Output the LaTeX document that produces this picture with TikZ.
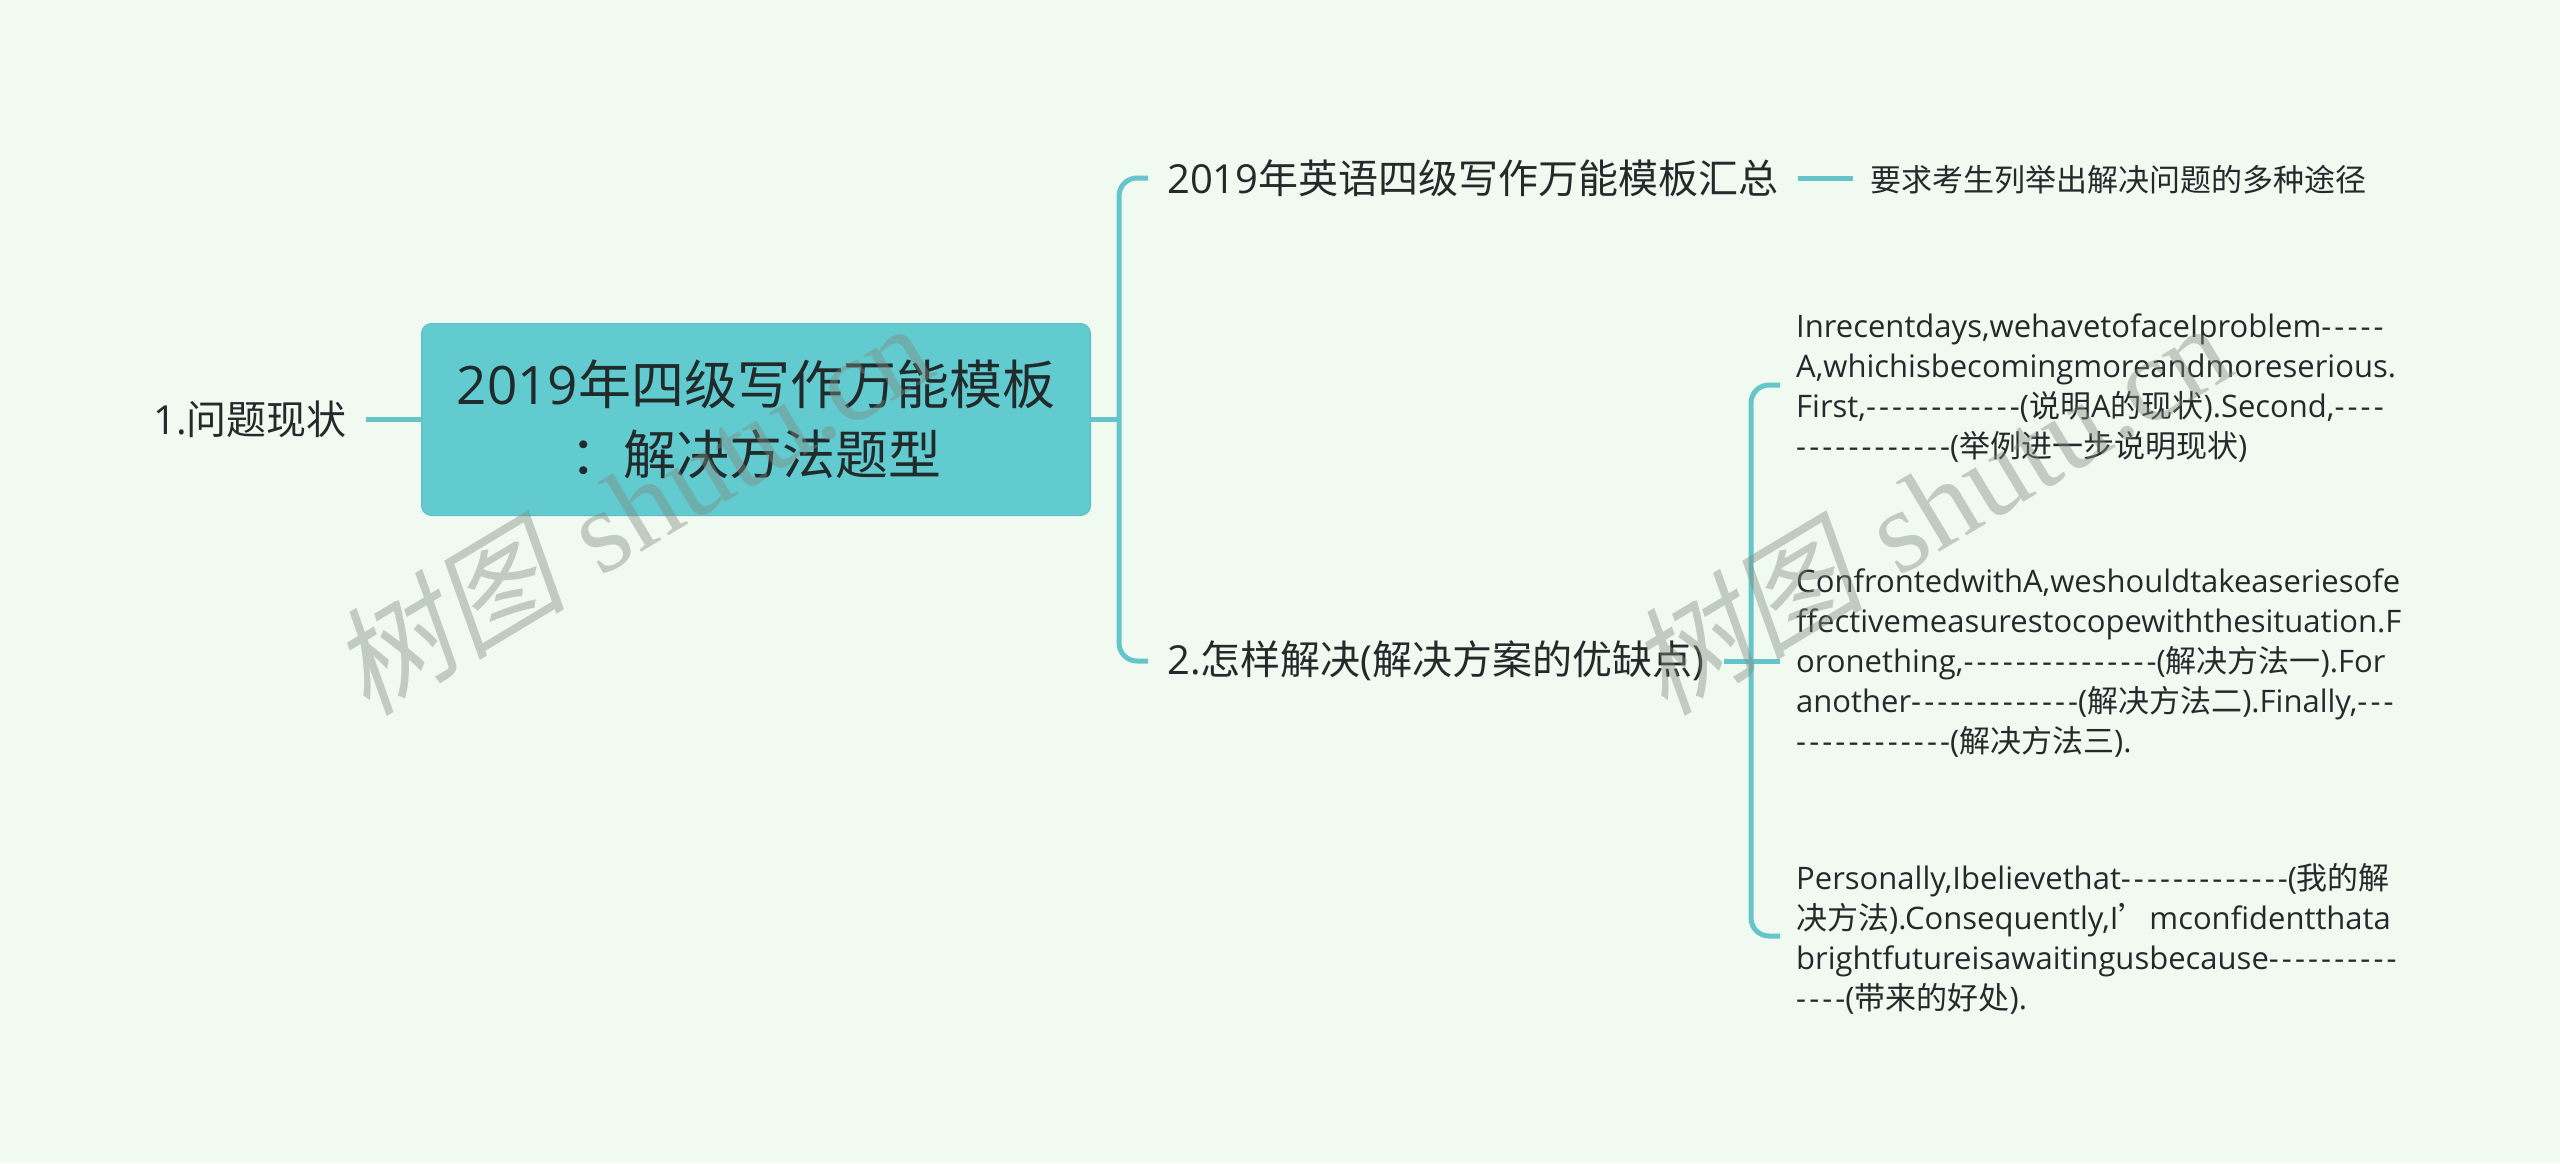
\documentclass[tikz,border=0pt]{standalone}
\usepackage{fontspec}
\newfontfamily\lat{Open Sans}
\newfontfamily\dsh{Open Sans}[LetterSpace=10]
\newfontfamily\cjk{Noto Sans CJK SC}
\newfontfamily\wmlat{Liberation Serif}[Style=Italic]
\newfontfamily\wmcjk{Noto Sans CJK SC}[FakeSlant=0.2]
\newcommand{\C}[1]{{\cjk #1}}
\newcommand{\D}[1]{{\dsh #1}}
\definecolor{bgc}{HTML}{F0FAF0}
\definecolor{boxc}{HTML}{62CBCF}
\definecolor{boxl}{HTML}{5BBFC4}
\definecolor{linkc}{HTML}{66C5CB}
\definecolor{txt}{HTML}{222B2B}
\definecolor{wm}{HTML}{7F8A80}
\tikzset{
  link/.style={draw=linkc,line width=5pt},
  rootbox/.style={draw=boxl,line width=1pt,fill=boxc,rounded corners=10pt,minimum width=669pt,minimum height=192pt,inner sep=0pt,align=center,text=txt,font=\lat\fontsize{53}{70}\selectfont},
  mainbr/.style={inner xsep=19pt,inner ysep=0pt,text=txt,font=\lat\fontsize{40}{46}\selectfont},
  subbr/.style={inner xsep=17pt,inner ysep=0pt,text=txt,font=\lat\fontsize{31}{40}\selectfont},
  para/.style={inner xsep=16pt,inner ysep=0pt,align=left,text=txt,font=\lat\fontsize{31}{40}\selectfont},
  mark text/.style={rotate=31,text=wm,opacity=0.42,inner sep=0pt,font=\fontsize{118}{122}\selectfont}
}
\begin{document}
\begin{tikzpicture}[x=1pt,y=-1pt]
\fill[bgc] (0,0) rectangle (2560,1163);
\useasboundingbox (0,0) rectangle (2560,1163);
\coordinate (v1) at (1119,419.5);
\coordinate (v2) at (1751,661);
\node[rootbox] (root) at (756,419.5) {2019\C{年四级写作万能模板}\\\C{：解决方法题型}};
\node[mainbr,anchor=east] (left) at (366,419.5) {1.\C{问题现状}};
\node[mainbr,anchor=west] (b1) at (1148,178) {2019\C{年英语四级写作万能模板汇总}};
\node[subbr,anchor=west] (b1c) at (1853,180) {\C{要求考生列举出解决问题的多种途径}};
\node[mainbr,anchor=west] (b2) at (1148,661) {2.\C{怎样解决}(\C{解决方案的优缺点})};
\node[para,anchor=west] (t1) at (1780,388) {Inrecentdays,wehavetofaceIproblem\D{-----}\\A,whichisbecomingmoreandmoreserious.\\First,\D{------------}(\C{说明}A\C{的现状}).Second,\D{----}\\\D{------------}(\C{举例进一步说明现状})};
\node[para,anchor=west] (t2) at (1780,663) {ConfrontedwithA,weshouldtakeaseriesofe\\ffectivemeasurestocopewiththesituation.F\\oronething,\D{---------------}(\C{解决方法一}).For\\another\D{-------------}(\C{解决方法二}).Finally,\D{---}\\\D{------------}(\C{解决方法三}).};
\node[para,anchor=west] (t3) at (1780,939) {Personally,Ibelievethat\D{-------------}(\C{我的解}\\\C{决方法}).Consequently,I\C{’}mconfidentthata\\brightfutureisawaitingusbecause\D{----------}\\\D{----}(\C{带来的好处}).};
\draw[link] (left.east) -- (root.west);
\draw[link] (root.east) -- (v1 |- root.east);
\draw[link,rounded corners=18pt] (b1.west) -- (v1 |- b1.west) -- (v1 |- b2.west) -- (b2.west);
\draw[link] (b1.east) -- (b1.east -| b1c.west);
\draw[link] (b2.east) -- (b2.east -| t2.west);
\draw[link,rounded corners=18pt] ([yshift=3pt]t1.west) -- ([yshift=3pt]v2 |- t1.west) -- ([yshift=3pt]v2 |- t3.west) -- ([yshift=3pt]t3.west);
\node[mark text] (wm1) at (631,507) {{\wmcjk 树图} {\wmlat shutu.cn}};
\node[mark text] (wm2) at (1929,507) {{\wmcjk 树图} {\wmlat shutu.cn}};
\end{tikzpicture}
\end{document}
